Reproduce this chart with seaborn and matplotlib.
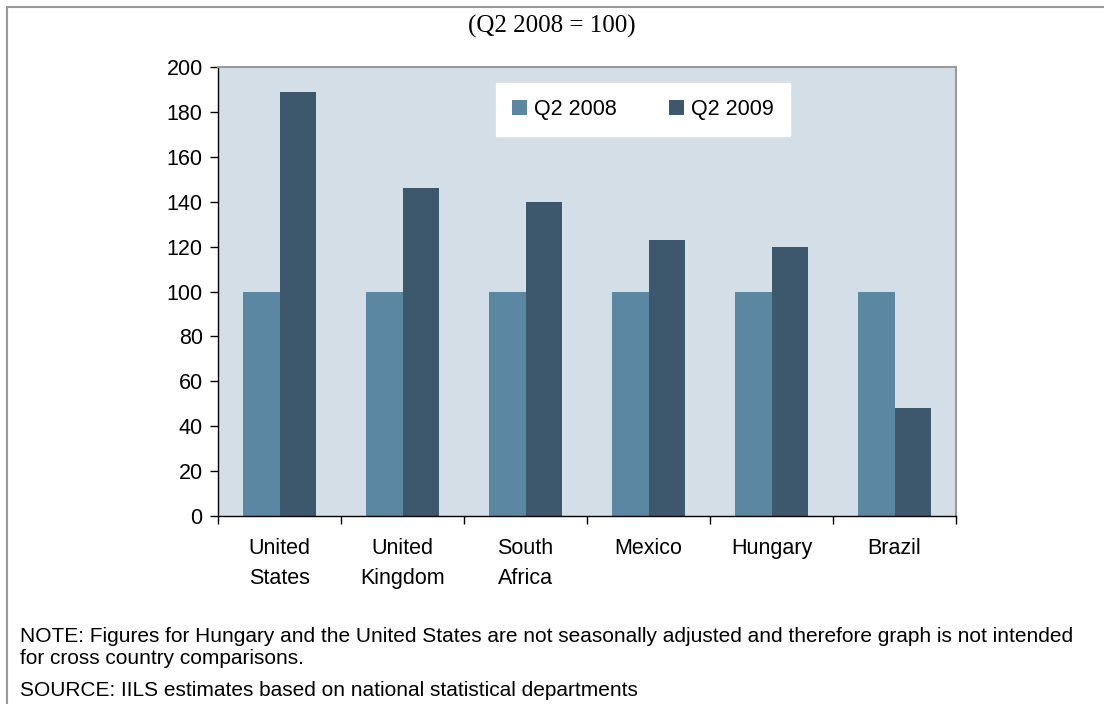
import numpy as np
import pandas as pd
import matplotlib
matplotlib.use("Agg")
import matplotlib.pyplot as plt
import seaborn as sns
from matplotlib.patches import Rectangle

countries = ["United\nStates", "United\nKingdom", "South\nAfrica", "Mexico", "Hungary", "Brazil"]
q2_2008 = [100, 100, 100, 100, 100, 100]
q2_2009 = [189, 146, 140, 123, 120, 48]
series = ["Q2 2008", "Q2 2009"]
colors = ["#5b87a3", "#3d586c"]

df = pd.DataFrame({
    "country": countries * 2,
    "value": q2_2008 + q2_2009,
    "series": [series[0]] * len(countries) + [series[1]] * len(countries),
})

plt.rcParams["font.family"] = ["Liberation Sans", "DejaVu Sans"]

fig = plt.figure(figsize=(11.04, 7.04), dpi=100)
ax = fig.add_axes([218 / 1104, 1 - 516 / 704, (956 - 218) / 1104, (516 - 67) / 704])

# gray outer frame (only top and left visible)
fig.patches.append(Rectangle((7 / 1104, -0.1), 1.2, 1 - 7 / 704 + 0.1, transform=fig.transFigure,
                             fill=False, edgecolor="#999999", linewidth=1.5))

sns.barplot(data=df, x="country", y="value", hue="series", palette=colors,
            width=0.6, gap=0, saturation=1, ax=ax, edgecolor="none")

ax.set_facecolor("#d4dee7")
ax.set_ylim(0, 200)
ax.set_xlim(-0.5, len(countries) - 0.5)
ax.set_yticks(np.arange(0, 201, 20))
ax.set_xlabel("")
ax.set_ylabel("")
ax.tick_params(axis="y", labelsize=15.5, length=6, width=1, direction="out", pad=5)
ax.tick_params(axis="x", which="major", labelsize=15.5, length=0, pad=16)
ax.set_xticks(np.arange(-0.5, len(countries)), minor=True)
ax.tick_params(axis="x", which="minor", length=6, width=1, direction="out")
for lbl in ax.get_xticklabels():
    lbl.set_linespacing(1.55)

for side in ["top", "right"]:
    ax.spines[side].set_color("#999999")
    ax.spines[side].set_linewidth(1.5)
for side in ["left", "bottom"]:
    ax.spines[side].set_color("black")
    ax.spines[side].set_linewidth(1)

leg = ax.legend(loc="upper left", bbox_to_anchor=((496 - 218) / 738, 1 - (83 - 67) / 449),
                ncol=2, frameon=True, fancybox=False, fontsize=15.5, handlelength=0.7,
                handleheight=0.7, columnspacing=2.45, handletextpad=0.3, borderpad=0.75,
                borderaxespad=0, framealpha=1)
leg.get_frame().set_facecolor("white")
leg.get_frame().set_edgecolor("white")

fig.text(0.5, 1 - 26 / 704, "(Q2 2008 = 100)", ha="center", va="center",
         fontsize=18, family=["Liberation Serif", "DejaVu Serif"])

fig.text(20 / 1104, 1 - 637 / 704, "NOTE: Figures for Hungary and the United States are not seasonally adjusted and therefore graph is not intended",
         ha="left", va="center", fontsize=15)
fig.text(20 / 1104, 1 - 658 / 704, "for cross country comparisons.", ha="left", va="center", fontsize=15)
fig.text(20 / 1104, 1 - 691 / 704, "SOURCE: IILS estimates based on national statistical departments",
         ha="left", va="center", fontsize=15)

fig.savefig("out.png", dpi=100)
